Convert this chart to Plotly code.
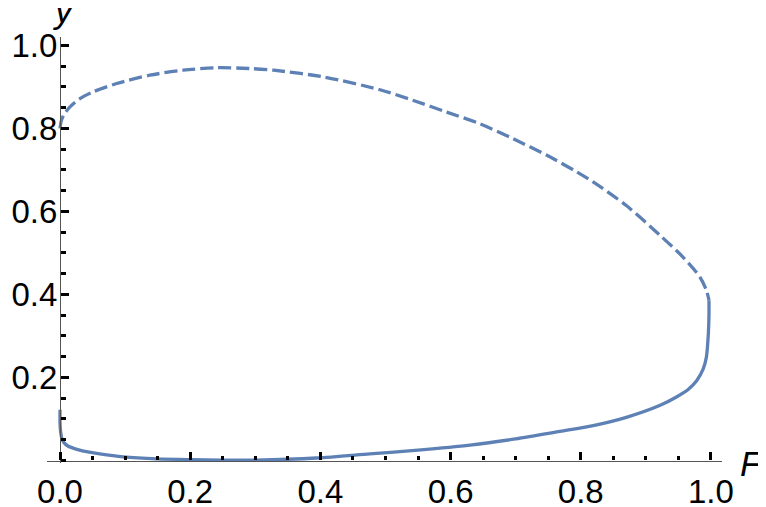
import plotly.graph_objects as go

# Lower (stable, solid) branch
F_lower = [0.0, 0.0, 0.001, 0.003, 0.006, 0.012, 0.026, 0.045, 0.061, 0.097, 0.149,
           0.20, 0.25, 0.30, 0.394, 0.476, 0.55, 0.63, 0.70, 0.768, 0.819, 0.870,
           0.922, 0.947, 0.965, 0.978, 0.988, 0.993, 0.996, 0.997, 0.997]
y_lower = [0.122, 0.09, 0.068, 0.052, 0.043, 0.035, 0.027, 0.02, 0.016, 0.009, 0.004,
           0.002, 0.001, 0.001, 0.006, 0.016, 0.025, 0.037, 0.052, 0.070, 0.084, 0.104,
           0.133, 0.153, 0.171, 0.192, 0.220, 0.249, 0.305, 0.35, 0.386]

# Upper (unstable, dashed) branch
F_upper = [0.0, 0.002, 0.006, 0.015, 0.030, 0.051, 0.087, 0.138, 0.189, 0.241, 0.292,
           0.328, 0.404, 0.4916, 0.543, 0.594, 0.645, 0.696, 0.748, 0.794, 0.819,
           0.870, 0.922, 0.957, 0.983, 0.993, 0.997]
y_upper = [0.80, 0.818, 0.833, 0.851, 0.871, 0.888, 0.908, 0.928, 0.940, 0.946, 0.944,
           0.940, 0.924, 0.893, 0.867, 0.839, 0.811, 0.775, 0.735, 0.695, 0.671,
           0.614, 0.542, 0.490, 0.442, 0.410, 0.386]

tick_vals = [0.0, 0.2, 0.4, 0.6, 0.8, 1.0]
tick_text = ["0.0", "0.2", "0.4", "0.6", "0.8", "1.0"]

color = "#5E81B5"
xr = [-0.02, 1.017]
yr = [-0.006, 1.02]

fig = go.Figure()
fig.add_trace(go.Scatter(x=F_lower, y=y_lower, mode="lines",
                         line=dict(color=color, width=3.3, shape="spline", smoothing=0.8),
                         showlegend=False))
fig.add_trace(go.Scatter(x=F_upper, y=y_upper, mode="lines",
                         line=dict(color=color, width=3.3, dash="13px,5px", shape="spline", smoothing=0.8),
                         showlegend=False))

font = dict(family="Liberation Sans, Arial, sans-serif", size=33, color="black")
minor = dict(tick0=0, dtick=0.05, ticks="inside", ticklen=4.5,
             tickwidth=3, tickcolor="black", showgrid=False)

# page body has an 8px default margin; figure is sized to fit the window
fig.update_layout(
    width=758, height=499,
    margin=dict(l=39, r=44, t=29, b=44, pad=0),
    plot_bgcolor="white", paper_bgcolor="white",
    font=font,
    xaxis=dict(range=xr, domain=[0, 1], anchor="free", automargin=False,
               position=(0 - yr[0]) / (yr[1] - yr[0]),
               tickvals=tick_vals, ticktext=tick_text,
               ticks="inside", ticklen=8, tickwidth=3, tickcolor="black",
               showline=True, linecolor="#555555", linewidth=1.3,
               showgrid=False, zeroline=False, tickfont=font,
               ticklabelstandoff=2, minor=minor),
    yaxis=dict(range=yr, domain=[0, 1], anchor="free", automargin=False,
               position=(0 - xr[0]) / (xr[1] - xr[0]),
               tickvals=tick_vals[1:], ticktext=tick_text[1:],
               ticks="inside", ticklen=8, tickwidth=3, tickcolor="black",
               showline=True, linecolor="#555555", linewidth=1.3,
               showgrid=False, zeroline=False, tickfont=font,
               ticklabelstandoff=-4, minor=minor),
    annotations=[
        dict(text="<i>F</i>", xref="paper", yref="paper", x=1.044, y=0.0,
             xanchor="center", yanchor="middle", showarrow=False,
             font=dict(family="Liberation Sans, Arial, sans-serif", size=35, color="black")),
        dict(text="<i>y</i>", xref="paper", yref="paper", x=0.025, y=1.063,
             xanchor="center", yanchor="middle", showarrow=False,
             font=dict(family="Liberation Sans, Arial, sans-serif", size=35, color="black")),
    ],
)

fig.write_html("out.html")
